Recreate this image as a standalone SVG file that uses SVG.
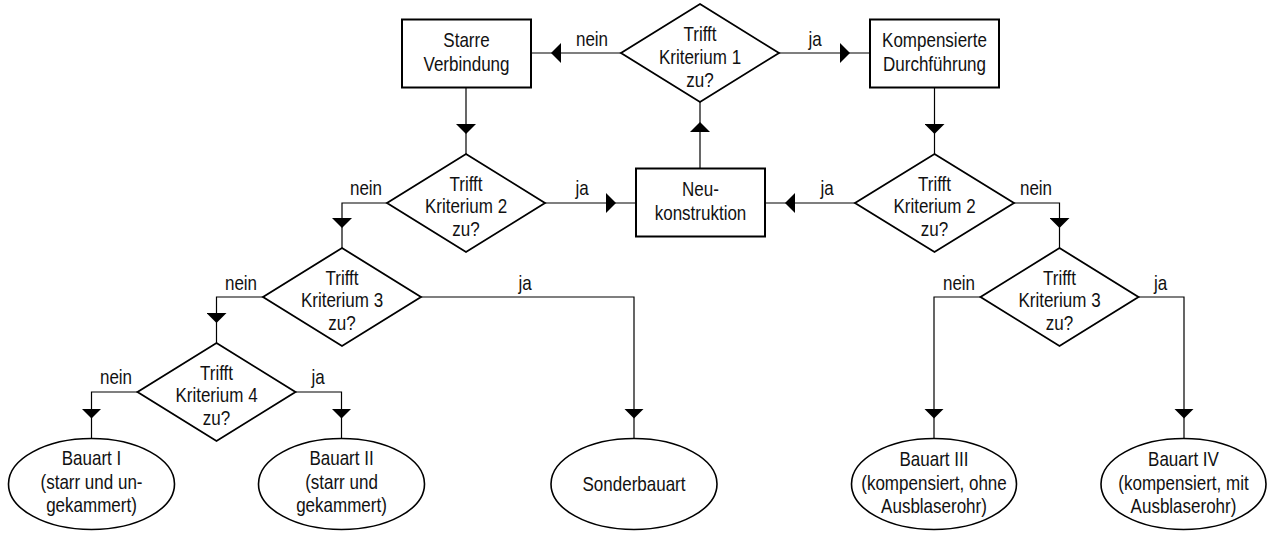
<svg xmlns="http://www.w3.org/2000/svg" width="1267" height="533" viewBox="0 0 1267 533">
<style>
  .box{fill:#fff;stroke:#000;stroke-width:2}
  .dia{fill:#fff;stroke:#000;stroke-width:1.8}
  .ell{fill:#fff;stroke:#000;stroke-width:1.6}
  .con{fill:none;stroke:#000;stroke-width:1.2;marker-end:url(#ah)}
  text{font-family:"Liberation Sans",Arial,sans-serif;font-size:21px;fill:#111;text-anchor:middle}
</style>
<defs>
  <marker id="ah" markerUnits="userSpaceOnUse" markerWidth="10" markerHeight="20" viewBox="0 0 10 20" refX="30" refY="10" orient="auto">
    <path d="M0,0 L10,10 L0,20 z" fill="#000"/>
  </marker>
</defs>
<g id="connectors">
  <polyline class="con" points="621,53 531,53"/>
  <polyline class="con" points="779,53 870,53"/>
  <polyline class="con" points="466,88 466,154"/>
  <polyline class="con" points="934.5,88 934.5,154"/>
  <polyline class="con" points="545,203 636,203"/>
  <polyline class="con" points="855,203 765,203"/>
  <polyline class="con" points="700,168 700,102"/>
  <polyline class="con" points="387,203 342,203 342,248"/>
  <polyline class="con" points="1014,203 1059.5,203 1059.5,248"/>
  <polyline class="con" points="263,297 216.5,297 216.5,343"/>
  <polyline class="con" points="421,297 634,297 634,438.5"/>
  <polyline class="con" points="980.5,297 934,297 934,438.5"/>
  <polyline class="con" points="1138.5,297 1184,297 1184,438.5"/>
  <polyline class="con" points="137.5,392 91.5,392 91.5,438.5"/>
  <polyline class="con" points="295.5,392 341.5,392 341.5,438.5"/>
  <text transform="translate(592 46) scale(0.81 1)">nein</text>
  <text transform="translate(815 46) scale(0.81 1)">ja</text>
  <text transform="translate(366 195) scale(0.81 1)">nein</text>
  <text transform="translate(582 195) scale(0.81 1)">ja</text>
  <text transform="translate(827 195) scale(0.81 1)">ja</text>
  <text transform="translate(1036 195) scale(0.81 1)">nein</text>
  <text transform="translate(241 290) scale(0.81 1)">nein</text>
  <text transform="translate(525 290) scale(0.81 1)">ja</text>
  <text transform="translate(959 290) scale(0.81 1)">nein</text>
  <text transform="translate(1160.5 290) scale(0.81 1)">ja</text>
  <text transform="translate(116 384) scale(0.81 1)">nein</text>
  <text transform="translate(318 384) scale(0.81 1)">ja</text>
</g>
<g id="n_starre">
  <rect class="box" x="402" y="19.5" width="129" height="68"/>
  <g transform="translate(466.5 0) scale(0.81 1)">
    <text x="0" y="47.5">Starre</text>
    <text x="0" y="71">Verbindung</text>
  </g>
</g>
<g id="n_komp">
  <rect class="box" x="870" y="19.5" width="129" height="68"/>
  <g transform="translate(934.5 0) scale(0.81 1)">
    <text x="0" y="47.5">Kompensierte</text>
    <text x="0" y="71">Durchführung</text>
  </g>
</g>
<g id="n_neu">
  <rect class="box" x="636" y="168.5" width="129" height="68"/>
  <g transform="translate(700.5 0) scale(0.81 1)">
    <text x="0" y="196.5">Neu-</text>
    <text x="0" y="220">konstruktion</text>
  </g>
</g>
<g id="d_k1">
  <polygon class="dia" points="700,4 779,53 700,102 621,53"/>
  <g transform="translate(700 0) scale(0.81 1)">
    <text x="0" y="41.5">Trifft</text>
    <text x="0" y="64.5">Kriterium 1</text>
    <text x="0" y="87">zu?</text>
  </g>
</g>
<g id="d_k2_links">
  <polygon class="dia" points="466,154 545,203 466,252 387,203"/>
  <g transform="translate(466 0) scale(0.81 1)">
    <text x="0" y="191">Trifft</text>
    <text x="0" y="213.5">Kriterium 2</text>
    <text x="0" y="236">zu?</text>
  </g>
</g>
<g id="d_k2_rechts">
  <polygon class="dia" points="934.5,154 1014,203 934.5,252 855,203"/>
  <g transform="translate(934.5 0) scale(0.81 1)">
    <text x="0" y="191">Trifft</text>
    <text x="0" y="213.5">Kriterium 2</text>
    <text x="0" y="236">zu?</text>
  </g>
</g>
<g id="d_k3_links">
  <polygon class="dia" points="342,248 421,297 342,346 263,297"/>
  <g transform="translate(342 0) scale(0.81 1)">
    <text x="0" y="285">Trifft</text>
    <text x="0" y="307.5">Kriterium 3</text>
    <text x="0" y="330">zu?</text>
  </g>
</g>
<g id="d_k3_rechts">
  <polygon class="dia" points="1059.5,248 1138.5,297 1059.5,346 980.5,297"/>
  <g transform="translate(1059.5 0) scale(0.81 1)">
    <text x="0" y="285">Trifft</text>
    <text x="0" y="307.5">Kriterium 3</text>
    <text x="0" y="330">zu?</text>
  </g>
</g>
<g id="d_k4">
  <polygon class="dia" points="216.5,343 295.5,392 216.5,441 137.5,392"/>
  <g transform="translate(216.5 0) scale(0.81 1)">
    <text x="0" y="380">Trifft</text>
    <text x="0" y="402.5">Kriterium 4</text>
    <text x="0" y="425">zu?</text>
  </g>
</g>
<g id="e_bauart1">
  <ellipse class="ell" cx="91.5" cy="484" rx="83" ry="45.5"/>
  <g transform="translate(91.5 0) scale(0.81 1)">
    <text x="0" y="465">Bauart I</text>
    <text x="0" y="489">(starr und un-</text>
    <text x="0" y="512">gekammert)</text>
  </g>
</g>
<g id="e_bauart2">
  <ellipse class="ell" cx="341.5" cy="484" rx="83" ry="45.5"/>
  <g transform="translate(341.5 0) scale(0.81 1)">
    <text x="0" y="465">Bauart II</text>
    <text x="0" y="489">(starr und</text>
    <text x="0" y="512">gekammert)</text>
  </g>
</g>
<g id="e_sonder">
  <ellipse class="ell" cx="634" cy="484" rx="83" ry="45.5"/>
  <g transform="translate(634 0) scale(0.81 1)">
    <text x="0" y="491">Sonderbauart</text>
  </g>
</g>
<g id="e_bauart3">
  <ellipse class="ell" cx="934" cy="484" rx="82.5" ry="45.5"/>
  <g transform="translate(934 0) scale(0.81 1)">
    <text x="0" y="466">Bauart III</text>
    <text x="0" y="490">(kompensiert, ohne</text>
    <text x="0" y="513">Ausblaserohr)</text>
  </g>
</g>
<g id="e_bauart4">
  <ellipse class="ell" cx="1183.5" cy="484" rx="82.5" ry="45.5"/>
  <g transform="translate(1183.5 0) scale(0.81 1)">
    <text x="0" y="466">Bauart IV</text>
    <text x="0" y="490">(kompensiert, mit</text>
    <text x="0" y="513">Ausblaserohr)</text>
  </g>
</g>
</svg>
